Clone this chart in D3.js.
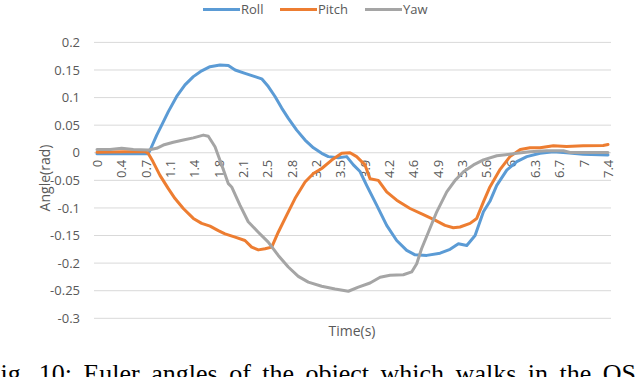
<!DOCTYPE html>
<html>
<head>
<meta charset="utf-8">
<script src="https://cdn.jsdelivr.net/npm/d3@7"></script>
<style>
  body { margin: 0; background: #fff; }
  svg text { font-family: "Open Sans", sans-serif; fill: #595959; }
</style>
</head>
<body>
<svg id="chart" width="640" height="377"></svg>
<script>
// values: [time (s), angle (rad)]
var roll = [
  [0, -0.002], [0.4, -0.002], [0.74, -0.002], [0.77, 0.005], [0.865, 0.032], [0.937, 0.05],
  [1.033, 0.0745], [1.154, 0.102], [1.274, 0.123], [1.395, 0.138], [1.516, 0.1485],
  [1.637, 0.156], [1.781, 0.159], [1.902, 0.158], [2.0, 0.15], [2.143, 0.144],
  [2.288, 0.138], [2.385, 0.134], [2.481, 0.12], [2.578, 0.102], [2.675, 0.081],
  [2.771, 0.0624], [2.892, 0.041], [3.013, 0.023], [3.134, 0.009], [3.254, -0.001],
  [3.35, -0.007], [3.495, -0.009], [3.616, -0.007], [3.713, -0.022], [3.809, -0.034],
  [3.905, -0.059], [4.05, -0.095], [4.195, -0.1315], [4.34, -0.159], [4.485, -0.177],
  [4.606, -0.185], [4.775, -0.186], [4.968, -0.182], [5.113, -0.175], [5.234, -0.165],
  [5.355, -0.168], [5.475, -0.15], [5.596, -0.107], [5.69, -0.088], [5.789, -0.059],
  [5.934, -0.0315], [6.079, -0.016], [6.224, -0.007], [6.416, -0.001], [6.609, 0.002],
  [6.8, 0], [7.04, -0.0025], [7.4, -0.004]
];
var pitch = [
  [0, 0.001], [0.4, 0.002], [0.7, 0.002], [0.74, -0.001], [0.81, -0.016], [0.912, -0.041],
  [1.033, -0.065], [1.13, -0.083], [1.25, -0.101], [1.395, -0.119], [1.516, -0.128],
  [1.637, -0.133], [1.757, -0.141], [1.854, -0.147], [2.0, -0.153], [2.143, -0.159],
  [2.24, -0.171], [2.336, -0.176], [2.433, -0.174], [2.53, -0.171], [2.625, -0.144],
  [2.747, -0.113], [2.867, -0.083], [3.013, -0.053], [3.134, -0.0376], [3.254, -0.0285],
  [3.399, -0.0133], [3.544, -0.001], [3.664, 0], [3.76, -0.007], [3.881, -0.022],
  [3.954, -0.047], [4.074, -0.05], [4.195, -0.071], [4.34, -0.086], [4.533, -0.101],
  [4.726, -0.112], [4.895, -0.122], [5.04, -0.1315], [5.16, -0.136], [5.257, -0.1345],
  [5.402, -0.128], [5.499, -0.119], [5.596, -0.089], [5.69, -0.062], [5.838, -0.03],
  [5.98, -0.007], [6.13, 0.006], [6.27, 0.009], [6.416, 0.009], [6.609, 0.0127],
  [6.8, 0.0115], [7.04, 0.0127], [7.33, 0.0133], [7.4, 0.015]
];
var yaw = [
  [0, 0.006], [0.19, 0.006], [0.357, 0.008], [0.526, 0.006], [0.743, 0.005], [0.864, 0.008],
  [0.96, 0.014], [1.105, 0.019], [1.25, 0.023], [1.395, 0.027], [1.54, 0.032],
  [1.612, 0.03], [1.709, 0.011], [1.806, -0.022], [1.902, -0.056], [1.95, -0.062],
  [2.07, -0.095], [2.19, -0.125], [2.336, -0.144], [2.48, -0.162], [2.625, -0.186],
  [2.77, -0.207], [2.915, -0.224], [3.06, -0.2345], [3.254, -0.242], [3.447, -0.247],
  [3.64, -0.251], [3.785, -0.2436], [3.954, -0.236], [4.1, -0.2255], [4.243, -0.222],
  [4.436, -0.221], [4.557, -0.216], [4.63, -0.201], [4.7, -0.174], [4.8, -0.1436],
  [4.92, -0.107], [5.065, -0.071], [5.186, -0.05], [5.307, -0.0345], [5.452, -0.022],
  [5.596, -0.013], [5.79, -0.0055], [6.08, -0.001], [6.27, 0.002], [6.513, 0.0036],
  [6.754, 0.0036], [6.85, 0.0006], [7.04, 0.0006], [7.4, 0.0006]
];

var seriesNames = ["Roll", "Pitch", "Yaw"];
var seriesColors = ["#5B9BD5", "#ED7D31", "#A5A5A5"];
var xTickLabels = ["0", "0.4", "0.7", "1.1", "1.4", "1.8", "2.1", "2.5", "2.8", "3.2", "3.5",
                   "3.9", "4.2", "4.6", "4.9", "5.3", "5.6", "6", "6.3", "6.7", "7", "7.4"];
var yTicks = [0.2, 0.15, 0.1, 0.05, 0, -0.05, -0.1, -0.15, -0.2, -0.25, -0.3];
var tMax = 7.4;

var svg = d3.select("#chart");

var xScale = d3.scaleLinear().domain([0, tMax]).range([97, 608]);
var yScale = d3.scaleLinear().domain([-0.3, 0.2]).range([318.3, 42.4]);

// horizontal gridlines
svg.append("g").attr("class", "grid")
  .selectAll("line")
  .data(yTicks)
  .enter().append("line")
  .attr("x1", 94).attr("x2", 611)
  .attr("y1", d => yScale(d)).attr("y2", d => yScale(d))
  .style("stroke", "#D9D9D9")
  .style("stroke-width", 1);

// y axis labels
var yAxis = d3.axisLeft(yScale).tickValues(yTicks).tickSize(0).tickPadding(14)
  .tickFormat(d => String(d));
var yg = svg.append("g").attr("transform", "translate(94,0)").call(yAxis);
yg.select(".domain").remove();
yg.selectAll("text").style("font-size", "13px").style("fill", "#595959")
  .style("font-family", "'Open Sans', sans-serif");

// x axis labels, rotated, hanging under the zero line
var tickPos = xTickLabels.map((s, i) => i * tMax / (xTickLabels.length - 1));
var xAxis = d3.axisBottom(xScale).tickValues(tickPos).tickSize(0)
  .tickFormat((d, i) => xTickLabels[i]);
var xg = svg.append("g").attr("transform", `translate(0,${yScale(0)})`).call(xAxis);
xg.select(".domain").remove();
xg.selectAll("text")
  .attr("x", -7).attr("y", 0).attr("dy", "0.35em")
  .attr("transform", "rotate(-90)")
  .style("text-anchor", "end")
  .style("font-size", "13px").style("fill", "#595959")
  .style("font-family", "'Open Sans', sans-serif");

// lines
var line = d3.line()
  .x(d => xScale(d[0]))
  .y(d => yScale(d[1]));

var allSeries = [roll, pitch, yaw];
svg.append("g").attr("class", "lines")
  .selectAll("path")
  .data(allSeries)
  .enter().append("path")
  .attr("d", line)
  .style("fill", "none")
  .style("stroke", (d, i) => seriesColors[i])
  .style("stroke-width", 3)
  .style("stroke-linejoin", "round")
  .style("stroke-linecap", "round");

// axis titles
svg.append("text")
  .attr("transform", "translate(50,178) rotate(-90)")
  .attr("text-anchor", "middle")
  .style("font-size", "14px")
  .text("Angle(rad)");

svg.append("text")
  .attr("x", 352).attr("y", 336)
  .attr("text-anchor", "middle")
  .style("font-size", "14px")
  .text("Time(s)");

// legend
var legendX = [203, 280, 365];
var legend = svg.append("g").attr("class", "legend")
  .selectAll("g")
  .data(seriesNames)
  .enter().append("g")
  .attr("transform", (d, i) => `translate(${legendX[i]},9.5)`);
legend.append("line")
  .attr("x1", 0).attr("x2", 37)
  .style("stroke", (d, i) => seriesColors[i])
  .style("stroke-width", 3);
legend.append("text")
  .attr("x", 38).attr("dy", "0.35em")
  .style("font-size", "13px")
  .text(d => d);

// figure caption (cut off by the frame, as in the scan)
svg.append("text")
  .attr("x", -14).attr("y", 382)
  .style("font-family", "'Liberation Serif', 'Times New Roman', serif")
  .style("font-size", "26px")
  .style("word-spacing", "5px")
  .style("fill", "#000")
  .text("Fig. 10: Euler angles of the object which walks in the OS");
</script>
</body>
</html>
